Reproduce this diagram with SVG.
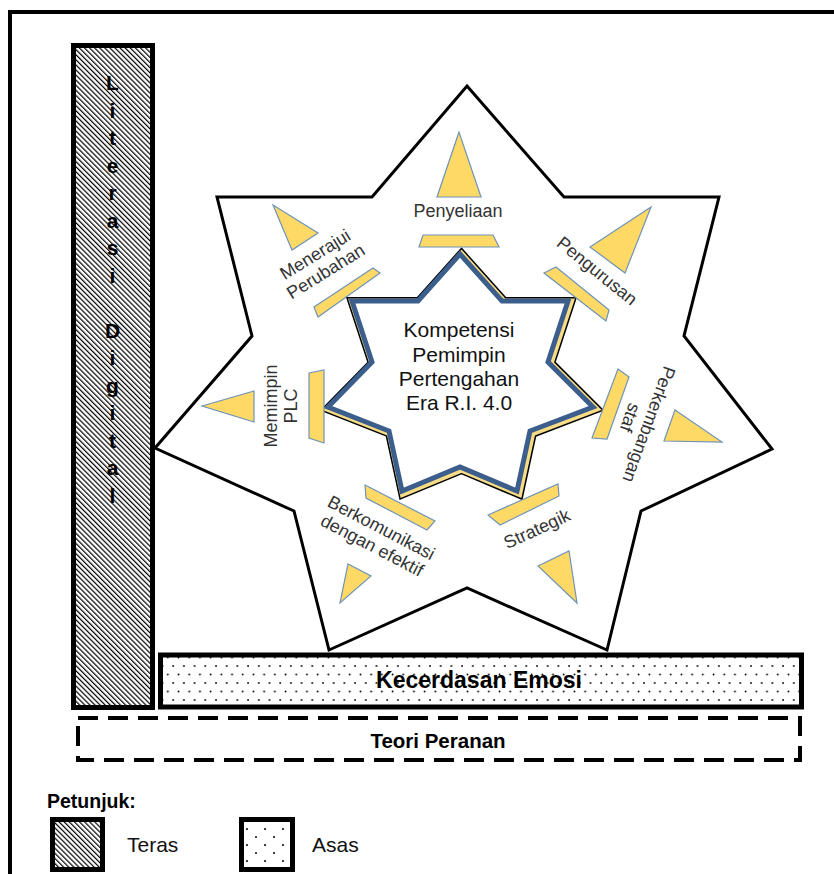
<svg xmlns="http://www.w3.org/2000/svg" width="834" height="874" viewBox="0 0 834 874">
<defs>
<pattern id="hatch" patternUnits="userSpaceOnUse" width="3.6" height="10" patternTransform="rotate(-45)"><rect width="3.6" height="10" fill="#fff"/><rect width="1.2" height="10" fill="#000"/></pattern>
<pattern id="dots" patternUnits="userSpaceOnUse" width="10.7" height="17"><rect width="10.7" height="17" fill="#fff"/><circle cx="2" cy="3" r="0.9" fill="#000"/><circle cx="7.35" cy="11.5" r="0.9" fill="#000"/></pattern>
<pattern id="dots2" patternUnits="userSpaceOnUse" width="18" height="16" x="1" y="2"><rect width="18" height="16" fill="#fff"/><circle cx="3" cy="3" r="1" fill="#000"/><circle cx="12" cy="11" r="1" fill="#000"/></pattern>
<path id="core" d="M460,254 L502,301 L568,301 L548,362 L593,407 L530,431 L517,491 L460,467 L402,491 L389,431 L328,407 L372,362 L352,301 L418,301 Z"/>
</defs>
<style>
.tri,.bar{fill:#ffd966;stroke:#6f93b8;stroke-width:1.2;stroke-linejoin:miter}
.lbl{font-family:"Liberation Sans",Arial,sans-serif;font-size:18px;fill:#333;text-anchor:middle}
.ctr{font-family:"Liberation Sans",Arial,sans-serif;font-size:21px;fill:#111;text-anchor:middle}
.bold{font-family:"Liberation Sans",Arial,sans-serif;font-weight:bold;fill:#000}
.plain{font-family:"Liberation Sans",Arial,sans-serif;font-size:21px;fill:#111}
</style>

<g id="frame"><rect x="10" y="12" width="840" height="880" fill="none" stroke="#000" stroke-width="4"/></g>

<g id="bintang-luar">
<path d="M467,86 L564,197 L719,197 L684,336 L772,449 L641,511 L607,650 L467,588 L329,650 L294,511 L155,448 L252,336 L217,197 L372,197 Z" fill="#fff" stroke="#000" stroke-width="3" stroke-linejoin="miter"/>
</g>

<g id="literasi-digital">
<rect x="73.5" y="45.5" width="79" height="662" fill="url(#hatch)" stroke="#000" stroke-width="5"/>
<text class="bold" font-size="21" fill="#111" text-anchor="middle"><tspan x="112.5" y="90">L</tspan><tspan x="112.5" y="117.5">i</tspan><tspan x="112.5" y="145">t</tspan><tspan x="112.5" y="172.5">e</tspan><tspan x="112.5" y="200">r</tspan><tspan x="112.5" y="227.5">a</tspan><tspan x="112.5" y="255">s</tspan><tspan x="112.5" y="282.5">i</tspan><tspan x="112.5" y="337.5">D</tspan><tspan x="112.5" y="365">i</tspan><tspan x="112.5" y="392.5">g</tspan><tspan x="112.5" y="420">i</tspan><tspan x="112.5" y="447.5">t</tspan><tspan x="112.5" y="475">a</tspan><tspan x="112.5" y="502.5">l</tspan></text>
</g>

<g id="kecerdasan-emosi">
<rect x="160.5" y="655" width="641" height="52" fill="url(#dots)" stroke="#000" stroke-width="5"/>
<text class="bold" x="479" y="688" font-size="23" text-anchor="middle">Kecerdasan Emosi</text>
</g>

<g id="teori-peranan">
<rect x="78" y="718" width="722" height="42" fill="none" stroke="#000" stroke-width="4" stroke-dasharray="20 10"/>
<text class="bold" x="438" y="748" font-size="20.5" text-anchor="middle">Teori Peranan</text>
</g>

<g id="kompetensi">
<use href="#core" transform="translate(1.5,1.5)" fill="none" stroke="#000" stroke-width="11" stroke-linejoin="miter"/>
<use href="#core" transform="translate(1.5,1.5)" fill="none" stroke="#f7dc86" stroke-width="8" stroke-linejoin="miter"/>
<use href="#core" fill="#fff" stroke="#3b5e8c" stroke-width="5" stroke-linejoin="miter"/>
<text class="ctr"><tspan x="459" y="337">Kompetensi</tspan><tspan x="459" y="362">Pemimpin</tspan><tspan x="459" y="386">Pertengahan</tspan><tspan x="459" y="410">Era R.I. 4.0</tspan></text>
</g>

<g id="penyeliaan">
<polygon class="tri" points="459,132 437,197 481,197"/>
<polygon class="bar" points="423,235 493,235 499,247 419,247"/>
<text class="lbl" x="458" y="217">Penyeliaan</text>
</g>

<g id="pengurusan">
<polygon class="tri" points="651,207 590,247 625,273"/>
<polygon class="bar" points="544,273 556,267 609,310 606,321"/>
<text class="lbl" transform="translate(597,271) rotate(39)" y="6">Pengurusan</text>
</g>

<g id="perkembangan-staf">
<polygon class="tri" points="675,410 722,442 664,441"/>
<polygon class="bar" points="618,369 629,377 607,439 592,438"/>
<text class="lbl" transform="translate(639.5,421) rotate(110)"><tspan x="0" y="-4">Perkembangan</tspan><tspan x="0" y="16">staf</tspan></text>
</g>

<g id="strategik">
<polygon class="tri" points="538,566 569,551 577,603"/>
<polygon class="bar" points="488,515 558,484 559,496 500,525"/>
<text class="lbl" transform="translate(537,529) rotate(-24.7)" y="6">Strategik</text>
</g>

<g id="berkomunikasi">
<polygon class="tri" points="348,564 371,576 340,603"/>
<polygon class="bar" points="365,485 435,521 427,530 366,498"/>
<text class="lbl" transform="translate(376.7,536.7) rotate(27.6)"><tspan x="0" y="-4">Berkomunikasi</tspan><tspan x="0" y="16">dengan efektif</tspan></text>
</g>

<g id="memimpin-plc">
<polygon class="tri" points="202,406 254,391 254,422"/>
<polygon class="bar" points="309,373 324,370 324,443 309,438"/>
<text class="lbl" transform="translate(280.5,406) rotate(-90)"><tspan x="0" y="-4">Memimpin</tspan><tspan x="0" y="16">PLC</tspan></text>
</g>

<g id="menerajui-perubahan">
<polygon class="tri" points="273,205 318,233 292,250"/>
<polygon class="bar" points="314,307 373,268 380,273 318,317"/>
<text class="lbl" transform="translate(320.5,263) rotate(-31.7)"><tspan x="0" y="-4">Menerajui</tspan><tspan x="0" y="16">Perubahan</tspan></text>
</g>

<g id="connectors"></g>

<g id="petunjuk">
<text class="bold" x="47" y="808" font-size="19.5">Petunjuk:</text>
<rect x="52.5" y="819.5" width="50" height="50" fill="url(#hatch)" stroke="#000" stroke-width="5"/>
<text class="plain" x="127" y="852">Teras</text>
<rect x="241.5" y="819.5" width="51" height="50" fill="url(#dots2)" stroke="#000" stroke-width="5"/>
<text class="plain" x="312" y="852">Asas</text>
</g>
</svg>
